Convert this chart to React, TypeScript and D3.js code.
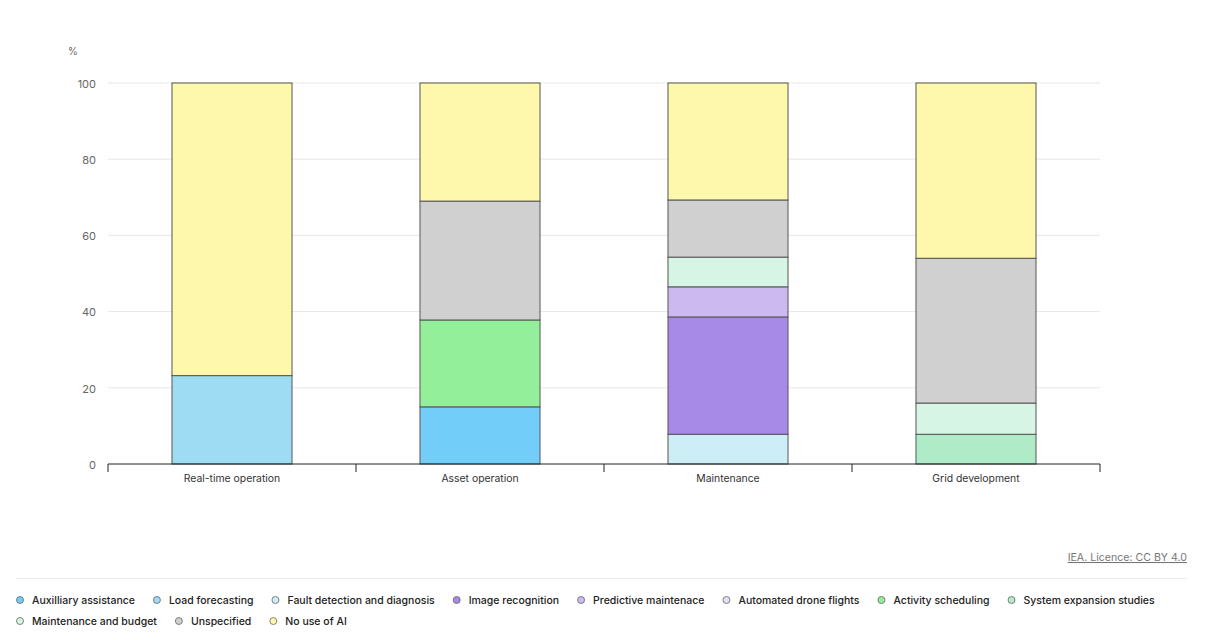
import React from "react";
import * as d3 from "d3";

const categories = ["Real-time operation", "Asset operation", "Maintenance", "Grid development"];

const seriesNames = [
  "Auxilliary assistance",
  "Load forecasting",
  "Fault detection and diagnosis",
  "Image recognition",
  "Predictive maintenace",
  "Automated drone flights",
  "Activity scheduling",
  "System expansion studies",
  "Maintenance and budget",
  "Unspecified",
  "No use of AI",
];

const seriesColors = [
  "#72cef8",
  "#9ddcf2",
  "#cdeef7",
  "#a78ae8",
  "#ccb9f0",
  "#e6ddf8",
  "#94ef9a",
  "#b0ebc8",
  "#d7f5e4",
  "#d0d0d0",
  "#fdf8ab",
];

// values per category, in the order of categories
const auxilliaryAssistance = [0, 15, 0, 0];
const loadForecasting = [23.2, 0, 0, 0];
const faultDetection = [0, 0, 7.8, 0];
const imageRecognition = [0, 0, 30.8, 0];
const predictiveMaintenance = [0, 0, 7.9, 0];
const automatedDroneFlights = [0, 0, 0, 0];
const activityScheduling = [0, 22.8, 0, 0];
const systemExpansion = [0, 0, 0, 7.8];
const maintenanceBudget = [0, 0, 7.8, 8.2];
const unspecified = [0, 31.2, 15, 38];
const noUseOfAI = [76.8, 31, 30.7, 46];

const seriesValues = [
  auxilliaryAssistance,
  loadForecasting,
  faultDetection,
  imageRecognition,
  predictiveMaintenance,
  automatedDroneFlights,
  activityScheduling,
  systemExpansion,
  maintenanceBudget,
  unspecified,
  noUseOfAI,
];

const yTicks = [0, 20, 40, 60, 80, 100];

const FONT = "Inter, 'Noto Sans', sans-serif";

function measure(text: string, font: string): number {
  const c = document.createElement("canvas");
  const ctx = c.getContext("2d")!;
  ctx.font = font;
  return ctx.measureText(text).width;
}

export default function App() {
  const W = 1216;
  const H = 640;
  const left = 108;
  const right = 1100;
  const top = 83;
  const bottom = 464;

  const x = d3
    .scaleBand<string>()
    .domain(categories)
    .range([left, right])
    .paddingInner(0.516)
    .paddingOuter(0.258);
  const y = d3.scaleLinear().domain([0, 100]).range([bottom, top]);

  const rows = categories.map((c, i) => {
    const r: Record<string, any> = { category: c };
    seriesNames.forEach((s, j) => (r[s] = seriesValues[j][i]));
    return r;
  });
  const stack = d3.stack<any>().keys(seriesNames)(rows);

  const color = d3.scaleOrdinal<string, string>().domain(seriesNames).range(seriesColors);

  // legend layout (flow)
  const legendSize = 10.5;
  const legendFont = `500 ${legendSize}px ${FONT}`;
  const legendRows: { name: string; x: number; row: number }[] = [];
  let lx = 20;
  let row = 0;
  const maxX = 1190;
  seriesNames.forEach((name) => {
    const w = measure(name, legendFont);
    if (lx + 12 + w > maxX) {
      row += 1;
      lx = 20;
    }
    legendRows.push({ name, x: lx, row });
    lx += 12 + w + 22;
  });

  const boundaries = [left, ...categories.map((c) => (x(c) as number) + x.bandwidth() + (x.step() - x.bandwidth()) / 2)];

  return (
    <svg
      width={W}
      height={H}
      style={{ position: "absolute", left: 0, top: 0, fontFamily: FONT }}
    >
      <rect width={W} height={H} fill="#fff" />
      <text x={68} y={55} fontSize={10} fill="#666">
        %
      </text>
      {yTicks.map((t) => (
        <g key={t}>
          {t > 0 && (
            <line x1={left} x2={right} y1={y(t)} y2={y(t)} stroke="#e6e6e6" strokeWidth={1} />
          )}
          <text x={96} y={y(t) + 1} dy="0.35em" textAnchor="end" fontSize={11} fill="#666">
            {t}
          </text>
        </g>
      ))}
      {stack.map((layer, j) =>
        layer.map((d, i) => {
          const h = y(d[0]) - y(d[1]);
          if (h <= 0) return null;
          return (
            <rect
              key={`${j}-${i}`}
              x={x(categories[i])}
              y={y(d[1])}
              width={x.bandwidth()}
              height={h}
              fill={color(seriesNames[j])}
              stroke="#555"
              strokeWidth={1}
            />
          );
        })
      )}
      <line x1={left} x2={right} y1={bottom} y2={bottom} stroke="#222" strokeWidth={1} />
      {boundaries.map((bx, i) => (
        <line key={i} x1={bx} x2={bx} y1={bottom} y2={bottom + 8} stroke="#222" strokeWidth={1} />
      ))}
      {categories.map((c) => (
        <text
          key={c}
          x={(x(c) as number) + x.bandwidth() / 2}
          y={482}
          textAnchor="middle"
          fontSize={10.4}
          fill="#333"
        >
          {c}
        </text>
      ))}
      <text
        x={1187}
        y={561}
        textAnchor="end"
        fontSize={10.6}
        fill="#777"
        textDecoration="underline"
      >
        IEA. Licence: CC BY 4.0
      </text>
      <line x1={16} x2={1187} y1={578.5} y2={578.5} stroke="#ebebeb" strokeWidth={1} />
      {legendRows.map((l) => (
        <g key={l.name} transform={`translate(${l.x},${600 + l.row * 21})`}>
          <circle r={3.5} fill={color(l.name)} stroke="#666" strokeWidth={0.8} />
          <text x={12} dy="0.35em" fontSize={legendSize} fontWeight={500} fill="#222">
            {l.name}
          </text>
        </g>
      ))}
    </svg>
  );
}
